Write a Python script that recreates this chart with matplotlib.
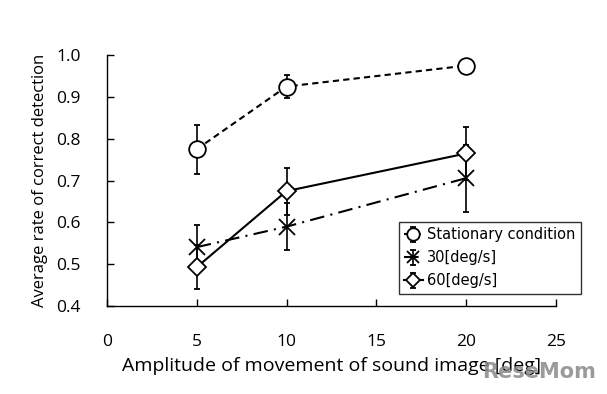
import matplotlib
matplotlib.use("Agg")
import matplotlib.pyplot as plt

x = [5, 10, 20]
stationary = [0.775, 0.925, 0.975]
stationary_err = [0.058, 0.028, 0.0]
deg30 = [0.541, 0.590, 0.706]
deg30_err = [0.054, 0.056, 0.080]
deg60 = [0.493, 0.675, 0.765]
deg60_err = [0.052, 0.056, 0.064]
labels = ["Stationary condition", "30[deg/s]", "60[deg/s]"]

fig = plt.figure(figsize=(6.07, 3.94), dpi=100)
ax = fig.add_axes([0.176, 0.223, 0.740, 0.637])

common = dict(color="black", mfc="white", mec="black", ecolor="black",
              elinewidth=1.2, capsize=2.5, capthick=1.2, lw=1.5, ms=12, mew=1.3)
ax.errorbar(x, stationary, yerr=stationary_err, fmt="o", ls=(0, (3, 2)),
            label=labels[0], **common)
ax.errorbar(x, deg30, yerr=deg30_err, fmt="x", ls=(0, (7, 3, 1, 3)),
            label=labels[1], **common)
ax.errorbar(x, deg60, yerr=deg60_err, fmt="D", ls="-", label=labels[2],
            **{**common, "ms": 9.5})

ax.set_xlim(0, 25)
ax.set_ylim(0.4, 1.0)
ax.set_xticks([0, 5, 10, 15, 20, 25])
ax.set_yticks([0.4, 0.5, 0.6, 0.7, 0.8, 0.9, 1.0])
ax.set_yticklabels([f"{v:.1f}" for v in ax.get_yticks()])
for s in ["top", "right"]:
    ax.spines[s].set_visible(False)
for s in ["left", "bottom"]:
    ax.spines[s].set_linewidth(1.0)
ax.tick_params(direction="in", length=5, width=1.0, labelsize=12.5, pad=19)
ax.tick_params(axis="x", pad=20)
for t in ax.get_xticklabels() + ax.get_yticklabels():
    t.set_family("Open Sans")

ax.set_xlabel("Amplitude of movement of sound image [deg]", fontsize=14,
              family="Open Sans", labelpad=5)
ax.set_ylabel("Average rate of correct detection", fontsize=12,
              family="Open Sans", labelpad=6)

leg = ax.legend(loc="lower right", bbox_to_anchor=(1.055, 0.05), fontsize=10.5,
                frameon=True, fancybox=False, edgecolor="black",
                handlelength=1.3, handletextpad=0.3, borderpad=0.35,
                labelspacing=0.55, markerscale=0.75, borderaxespad=0)
leg.get_frame().set_linewidth(1.0)

fig.text(0.982, 0.03, "ReseMom", ha="right", va="bottom", fontsize=15,
         fontweight="bold", color="#8a8a8a", alpha=0.85, family="DejaVu Sans")

fig.savefig("out.png", dpi=100)
